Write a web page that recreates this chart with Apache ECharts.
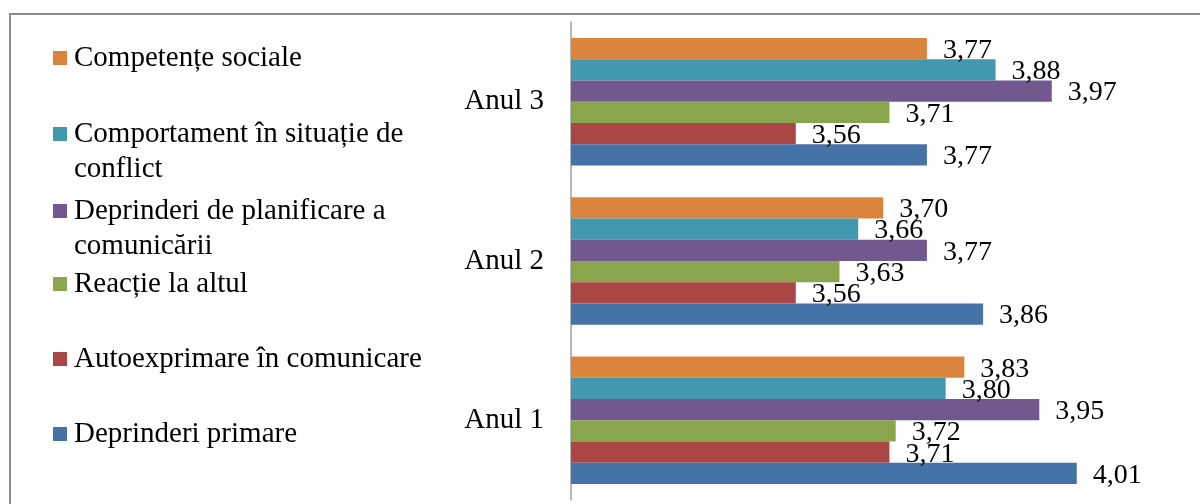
<!DOCTYPE html>
<html>
<head>
<meta charset="utf-8">
<script src="https://cdn.jsdelivr.net/npm/echarts@6/dist/echarts.min.js"></script>
<style>
html,body{margin:0;padding:0;background:#fff;}
#chart{width:1200px;height:504px;}
</style>
</head>
<body>
<div id="chart"></div>
<script>
// ---- data ----
const categories = ['Anul 1', 'Anul 2', 'Anul 3'];
// listed top-to-bottom as drawn within each group
const seriesNames = [
  'Competențe sociale',
  'Comportament în situație de conflict',
  'Deprinderi de planificare a comunicării',
  'Reacție la altul',
  'Autoexprimare în comunicare',
  'Deprinderi primare'
];
const legendLabels = [
  'Competențe sociale',
  'Comportament în situație de\nconflict',
  'Deprinderi de planificare a\ncomunicării',
  'Reacție la altul',
  'Autoexprimare în comunicare',
  'Deprinderi primare'
];
const competente = [3.83, 3.70, 3.77];
const comportament = [3.80, 3.66, 3.88];
const planificare = [3.95, 3.77, 3.97];
const reactie = [3.72, 3.63, 3.71];
const autoexprimare = [3.71, 3.56, 3.56];
const deprinderiPrimare = [4.01, 3.86, 3.77];
const seriesValues = [competente, comportament, planificare, reactie, autoexprimare, deprinderiPrimare];
const axisMin = 3.2, axisMax = 4.2;

// ---- styles ----
const colors = ['#DB843D', '#4198AF', '#71588F', '#89A54E', '#AA4643', '#4572A7'];
const iconTops = [51, 127, 204, 277, 352, 427];
const FONT = '"Liberation Serif", "Times New Roman", serif';

const chart = echarts.init(document.getElementById('chart'), null, {renderer: 'canvas'});

const legends = seriesNames.map((name, i) => {
  const twoLine = legendLabels[i].indexOf('\n') >= 0;
  return {
    data: [name],
    left: 53,
    top: iconTops[i] - 10.5,
    padding: 0,
    itemWidth: 14,
    itemHeight: twoLine ? 49 : 14,
    icon: twoLine ? 'path://M0,0H14V14H0Z M0,48.9H0.1V49H0Z' : 'rect',
    formatter: () => legendLabels[i],
    textStyle: {
      fontFamily: FONT,
      fontSize: 29,
      color: '#000',
      lineHeight: 35,
      padding: [0, 0, 0, 2]
    },
    selectedMode: false
  };
});

const fmt = v => v.toFixed(2).replace('.', ',');

const series = seriesNames.map((name, i) => ({
  name: name,
  type: 'bar',
  data: seriesValues[i],
  barGap: '0%',
  barCategoryGap: '20%',
  itemStyle: {color: colors[i]},
  label: {
    show: true,
    position: 'right',
    distance: 16,
    offset: [0, 2],
    formatter: p => fmt(p.value),
    fontFamily: FONT,
    fontSize: 28,
    color: '#000'
  },
  emphasis: {disabled: true}
}));

chart.setOption({
  animation: false,
  graphic: [{
    type: 'rect',
    z: -10,
    shape: {x: 10, y: 14, width: 1400, height: 800},
    style: {fill: 'none', stroke: '#8c8c8c', lineWidth: 2}
  }],
  legend: legends,
  grid: {left: 571, right: 4.6, top: 22, bottom: 4, containLabel: false},
  xAxis: {
    type: 'value',
    min: axisMin,
    max: axisMax,
    show: false
  },
  yAxis: {
    type: 'category',
    data: categories,
    axisLine: {show: true, lineStyle: {color: '#a0a0a0', width: 1.5}},
    axisTick: {show: false},
    axisLabel: {
      margin: 27,
      fontFamily: FONT,
      fontSize: 29,
      color: '#000'
    }
  },
  series: series
});
</script>
</body>
</html>
